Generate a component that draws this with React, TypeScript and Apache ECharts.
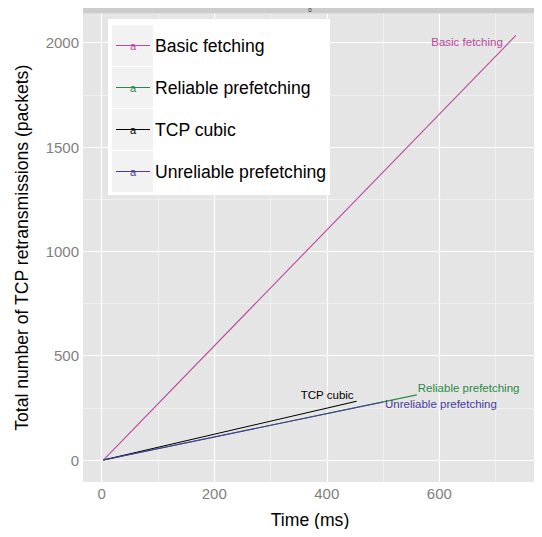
import React, { useEffect, useRef } from "react";
import * as echarts from "echarts";

const seriesNames = ["Basic fetching", "Reliable prefetching", "TCP cubic", "Unreliable prefetching"];
const seriesColors = ["#B9479F", "#2A8A45", "#000000", "#4A3B9E"];
const basicFetching: [number, number][] = [[3, 0], [736, 2035]];
const reliablePrefetching: [number, number][] = [[3, 0], [560, 312]];
const tcpCubic: [number, number][] = [[3, 0], [453, 282]];
const unreliablePrefetching: [number, number][] = [[3, 0], [500, 278]];
const xTicks = [0, 200, 400, 600];
const xMinor = [100, 300, 500, 700];
const yTicks = [0, 500, 1000, 1500, 2000];
const yMinor = [250, 750, 1250, 1750];
const stripLabel = "0";

const FONT = "'Liberation Sans', Arial, Helvetica, sans-serif";

export default function App() {
  const ref = useRef<HTMLDivElement>(null);
  useEffect(() => {
    if (!ref.current) return;
    const chart = echarts.init(ref.current, undefined, { renderer: "svg" });
    const datas = [basicFetching, reliablePrefetching, tcpCubic, unreliablePrefetching];
    const labelCfg = [
      { position: "left", distance: 13, offset: [0, 7] },
      { position: "right", distance: 1, offset: [0, -7] },
      { position: "left", distance: 3, offset: [0, -6] },
      { position: "right", distance: 2, offset: [0, 2] },
    ];
    const lineSeries = seriesNames.map((name, i) => ({
      type: "line",
      name,
      data: datas[i].map((p, j) =>
        j === datas[i].length - 1
          ? {
              value: p,
              label: {
                show: true,
                formatter: name,
                position: labelCfg[i].position,
                distance: labelCfg[i].distance,
                offset: labelCfg[i].offset,
                color: seriesColors[i],
                fontSize: 11.5,
                fontFamily: FONT,
              },
            }
          : { value: p }
      ),
      showSymbol: true,
      symbol: "circle",
      symbolSize: 0,
      label: { show: false },
      lineStyle: { color: seriesColors[i], width: 1.1 },
      itemStyle: { color: seriesColors[i] },
      silent: true,
      z: 10,
    }));
    const minorLine = { color: "#F2F2F2", width: 0.8, type: "solid" };
    const majorLine = { color: "#FFFFFF", width: 1.2, type: "solid" };
    const gridSeries = {
      type: "line",
      name: "grid",
      data: [],
      silent: true,
      z: 1,
      markLine: {
        silent: true,
        symbol: "none",
        z: 1,
        label: { show: false },
        animation: false,
        lineStyle: { type: "solid" },
        data: [
          ...xMinor.map((v) => ({ xAxis: v, lineStyle: minorLine })),
          ...yMinor.map((v) => ({ yAxis: v, lineStyle: minorLine })),
          ...xTicks.map((v) => ({ xAxis: v, lineStyle: majorLine })),
          ...yTicks.map((v) => ({ yAxis: v, lineStyle: majorLine })),
        ],
      },
    };

    const legendGraphics: any[] = [
      { type: "rect", shape: { x: 108, y: 19, width: 222, height: 176 }, style: { fill: "#FFFFFF" } },
    ];
    seriesNames.forEach((name, i) => {
      const top = 25 + i * 42;
      const cy = top + 20.5;
      legendGraphics.push(
        { type: "rect", shape: { x: 112, y: top, width: 41, height: 41 }, style: { fill: "#F2F2F2" } },
        { type: "line", shape: { x1: 116, y1: cy, x2: 150, y2: cy }, style: { stroke: seriesColors[i], lineWidth: 1 } },
        {
          type: "text",
          x: 133,
          y: cy,
          style: { text: "a", fill: seriesColors[i], font: `11px ${FONT}`, align: "center", verticalAlign: "middle" },
        },
        {
          type: "text",
          x: 155,
          y: cy,
          style: { text: name, fill: "#000000", font: `17.6px ${FONT}`, align: "left", verticalAlign: "middle" },
        }
      );
    });

    chart.setOption({
      animation: false,
      grid: {
        left: 83,
        right: 5,
        top: 13.5,
        bottom: 55,
        show: true,
        backgroundColor: "#E5E5E5",
        borderWidth: 0,
      },
      xAxis: {
        type: "value",
        min: -33.2,
        max: 773.6,
        name: "Time (ms)",
        nameLocation: "middle",
        nameGap: 29,
        nameTextStyle: { color: "#000000", fontSize: 17.6, fontFamily: FONT },
        axisLine: { show: false },
        axisTick: { show: true, length: 3, customValues: xTicks, lineStyle: { color: "#7F7F7F" } },
        axisLabel: {
          customValues: xTicks,
          formatter: (v: number) => String(v),
          color: "#7F7F7F",
          fontSize: 15,
          fontFamily: FONT,
          margin: 4,
        },
        splitLine: { show: false },
      },
      yAxis: {
        type: "value",
        min: -105.4,
        max: 2140,
        name: "Total number of TCP retransmissions (packets)",
        nameLocation: "middle",
        nameGap: 52,
        nameTextStyle: { color: "#000000", fontSize: 17.6, fontFamily: FONT },
        axisLine: { show: false },
        axisTick: { show: true, length: 3, customValues: yTicks, lineStyle: { color: "#7F7F7F" } },
        axisLabel: {
          customValues: yTicks,
          formatter: (v: number) => String(v),
          color: "#7F7F7F",
          fontSize: 15,
          fontFamily: FONT,
          margin: 4,
        },
        splitLine: { show: false },
      },
      graphic: [
        { type: "rect", shape: { x: 83, y: 6, width: 454, height: 7.5 }, style: { fill: "#CCCCCC" }, z: 10 },
        {
          type: "text",
          x: 310,
          y: 9.8,
          style: { text: stripLabel, fill: "#1A1A1A", font: `6px ${FONT}`, align: "center", verticalAlign: "middle" },
          z: 11,
        },
        ...legendGraphics.map((g) => ({ ...g, z: 20 })),
      ],
      series: [gridSeries, ...lineSeries],
    });
    return () => chart.dispose();
  }, []);
  return <div ref={ref} style={{ width: 542, height: 537, margin: -8 }} />;
}
